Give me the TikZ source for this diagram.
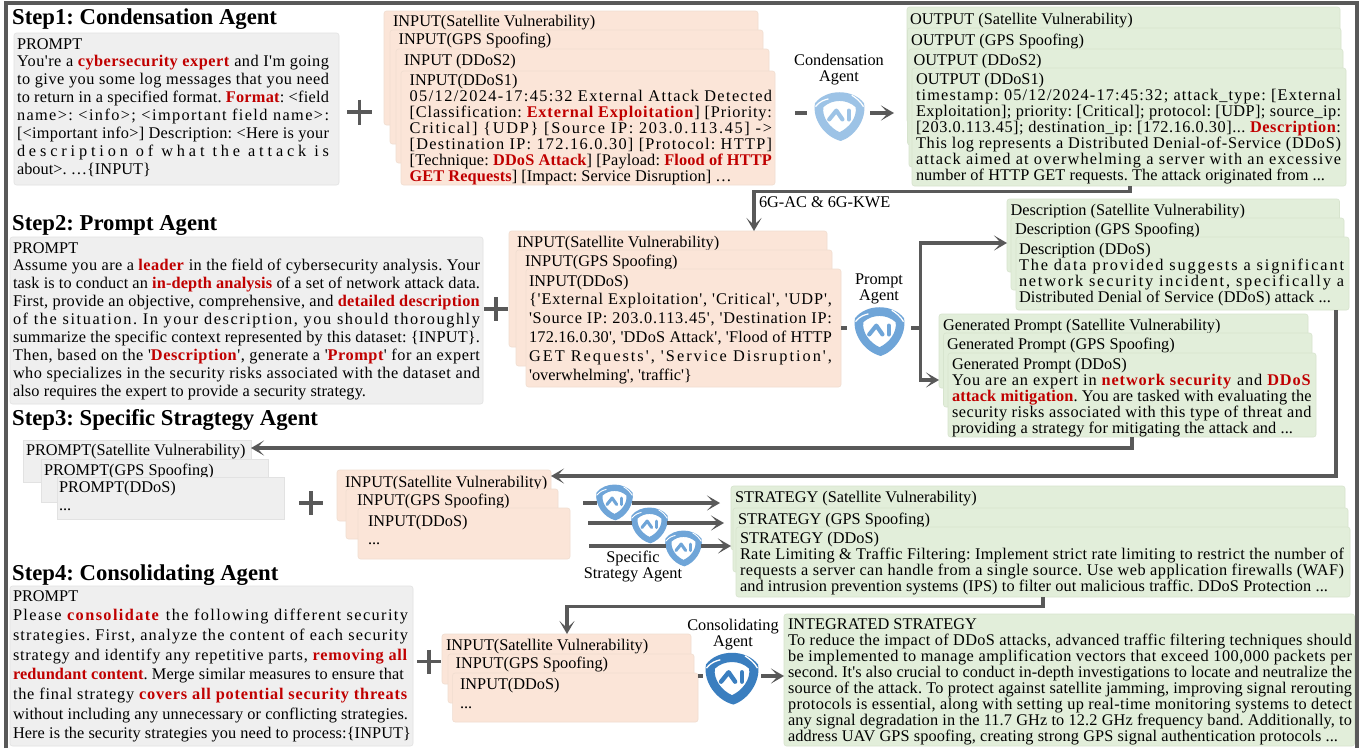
\documentclass[tikz,border=0pt]{standalone}
\usepackage{fontspec}
\usepackage{xcolor}
\setmainfont{Liberation Serif}[Ligatures=TeXOff]
\usetikzlibrary{arrows.meta}
\AtBeginDocument{\frenchspacing}
\definecolor{redc}{HTML}{C00000}
\definecolor{linec}{HTML}{595959}
\definecolor{grayf}{HTML}{EFEFEF}
\definecolor{grayd}{HTML}{E2E2E2}
\definecolor{orf}{HTML}{FBE5D8}
\definecolor{ord}{HTML}{F0DDD0}
\definecolor{grf}{HTML}{E2EEDA}
\definecolor{grd}{HTML}{D7E4CE}
\definecolor{aiA}{HTML}{9DC3E6}
\definecolor{aiB}{HTML}{6FA5D8}
\definecolor{aiC}{HTML}{3A7EBF}
\newcommand\R[1]{\textcolor{redc}{\textbf{#1}}}
\newlength\JWa\newlength\JWb\newlength\JT\newlength\lw\newlength\pad
\newcommand\J[2][\lw]{\setlength\JT{#1}%
 \settowidth\JWa{#2}%
 \settowidth\JWb{\addfontfeature{LetterSpace=1}#2}%
 \pgfmathsetmacro\ls{(\the\JT-\the\JWa)/(\the\JWb-\the\JWa)}%
 \hbox{\kern\pad\smash{\addfontfeature{LetterSpace=\ls}#2}}}
\newcommand\Nn[1]{\hbox{\kern\pad\smash{#1}}}
\def\setgeo#1#2#3#4{\def\gtx{#1}\def\gtr{#2}\def\gby{#3}\def\gL{#4}}
% name, style, x0, y0, x1, y1, {tx}{right}{first baseline}{line step}, lines
\newcommand\TB[8]{\setgeo#7%
 \node[#2,anchor=north west] (#1) at (#3,#4) {%
  \setlength\pad{\dimexpr\gtx pt-#3pt\relax}\setlength\lw{\dimexpr\gtr pt-\gtx pt\relax}%
  \vbox to \dimexpr#6pt-#4pt\relax{\baselineskip=\gL pt\lineskiplimit=-1000pt\lineskip=0pt
   \hbox to \dimexpr#5pt-#3pt\relax{}\kern\dimexpr\gby pt-#4pt-\gL pt\relax
   #8\vss}};}
% logo: centre x, centre y, half size, colour (inner y axis points down the page)
\newcommand\AIlogo[4]{\begin{scope}[shift={(#1,#2)},x=#3pt,y=#3pt,yscale=-1]
 \fill[#4,even odd rule] (-1,-.52) .. controls (-.55,-1.12) and (.55,-1.12) .. (1,-.52)
   .. controls (1.12,.15) and (.6,.85) .. (.05,1.02) .. controls (-.6,.85) and (-1.12,.15) .. (-1,-.52) -- cycle
   (-.66,-.36) .. controls (-.3,-.7) and (.3,-.7) .. (.66,-.36)
   .. controls (.72,.05) and (.4,.48) .. (0,.66) .. controls (-.4,.48) and (-.72,.05) .. (-.66,-.36) -- cycle;
 \draw[white,line width=.05*#3pt] (-.98,-.38) .. controls (-.8,-.62) and (-.6,-.66) .. (-.45,-.7);
 \draw[white,line width=.05*#3pt] (.98,-.38) .. controls (.85,-.6) and (.7,-.72) .. (.5,-.85);
 \draw[#4,line width=.17*#3pt,line join=round,line cap=round] (-.42,.14) -- (-.13,-.22) -- (.12,.14);
 \draw[#4,line width=.17*#3pt,line cap=round] (.38,-.22) -- (.38,.14);
\end{scope}}
\tikzset{
 txt/.style={font=\fontsize{16.3}{16}\selectfont,inner sep=0pt,outer sep=0pt},
 bx/.style={txt,rounded corners=2.5pt,line width=.6pt},
 graybox/.style={bx,fill=grayf,draw=grayd},
 sqbox/.style={bx,sharp corners,fill=grayf,draw=grayd},
 orbox/.style={bx,fill=orf,draw=ord},
 grbox/.style={bx,fill=grf,draw=grd},
 stepT/.style={font=\fontsize{22.7}{24}\selectfont\bfseries,inner sep=0pt,anchor=base west},
 lbl/.style={txt,align=center,anchor=north,font=\fontsize{16.3}{15.7}\selectfont},
 agent/.style={minimum height=2pt,inner sep=0pt,outer sep=0pt},
 conn/.style={draw=linec,line width=3.4pt},
 arr/.style={conn,-{Stealth[length=13pt,width=15pt,inset=7pt,fill=linec]}},
 plus/.style={draw=linec,line width=3.6pt},
 frameline/.style={draw=linec,line width=4.6pt},
}
\begin{document}
\begin{tikzpicture}[x=1pt,y=-1pt]
\useasboundingbox (0,0) rectangle (1362,748);
\fill[white] (0,0) rectangle (1362,748);
\draw[frameline] (5.8,748) -- (5.8,3) -- (1357,3) -- (1357,748);
% Titles
\node[stepT] (t1) at (12,24) {Step1: Condensation Agent};
\node[stepT] (t2) at (12,230) {Step2: Prompt Agent};
\node[stepT] (t3) at (12,425) {Step3: Specific Stragtegy Agent};
\node[stepT] (t4) at (12,580) {Step4: Consolidating Agent};
% Step 1
\TB{p1}{graybox}{14}{33}{339}{185}{{17}{329}{49}{17.9}}{%
 \Nn{PROMPT}
 \J{You're a \R{cybersecurity expert} and I'm going}
 \J{to give you some log messages that you need}
 \J{to return in a specified format. \R{Format}: <field}
 \J{name>: <info>; <important field name>:}
 \J{[<important info>] Description: <Here is your}
 \J{description of what the attack is}
 \J[134pt]{about>. …\{INPUT\}}}
\TB{i1a}{orbox}{384}{11}{758}{125}{{393}{700}{26}{16}}{\Nn{INPUT(Satellite Vulnerability)}}
\TB{i1b}{orbox}{390}{30}{763}{144}{{398.6}{700}{44}{16}}{\Nn{INPUT(GPS Spoofing)}}
\TB{i1c}{orbox}{396}{49}{769}{163}{{404}{700}{65}{16}}{\Nn{INPUT (DDoS2)}}
\TB{i1d}{orbox}{401}{71}{775}{185}{{409.7}{772}{85}{16}}{%
 \Nn{INPUT(DDoS1)}
 \J{05/12/2024-17:45:32 External Attack Detected}
 \J{[Classification: \R{External Exploitation}] [Priority:}
 \J{Critical] \{UDP\} [Source IP: 203.0.113.45] ->}
 \J{[Destination IP: 172.16.0.30] [Protocol: HTTP]}
 \J{[Technique: \R{DDoS Attack}] [Payload: \R{Flood of HTTP}}
 \J[322pt]{\R{GET Requests}] [Impact: Service Disruption] …}}
\TB{o1a}{grbox}{907}{7}{1340}{123}{{910}{1300}{24}{16}}{\Nn{OUTPUT (Satellite Vulnerability)}}
\TB{o1b}{grbox}{907.5}{28}{1341}{145}{{911}{1300}{45}{16}}{\Nn{OUTPUT (GPS Spoofing)}}
\TB{o1c}{grbox}{909}{49}{1343}{167}{{913.5}{1300}{65}{16}}{\Nn{OUTPUT (DDoS2)}}
\TB{o1d}{grbox}{912}{68}{1346}{186}{{916}{1341}{84}{16}}{%
 \Nn{OUTPUT (DDoS1)}
 \J{timestamp: 05/12/2024-17:45:32; attack\_type: [External}
 \J{Exploitation]; priority: [Critical]; protocol: [UDP]; source\_ip:}
 \J{[203.0.113.45]; destination\_ip: [172.16.0.30]... \R{Description}:}
 \J{This log represents a Distributed Denial-of-Service (DDoS)}
 \J{attack aimed at overwhelming a server with an excessive}
 \J[409pt]{number of HTTP GET requests. The attack originated from ...}}
% Step 2
\TB{p2}{graybox}{10}{237}{483}{404}{{13}{480}{253}{17.9}}{%
 \Nn{PROMPT}
 \J{Assume you are a \R{leader} in the field of cybersecurity analysis. Your}
 \J{task is to conduct an \R{in-depth analysis} of a set of network attack data.}
 \J{First, provide an objective, comprehensive, and \R{detailed description}}
 \J{of the situation. In your description, you should thoroughly}
 \J{summarize the specific context represented by this dataset: \{INPUT\}.}
 \J{Then, based on the '\R{Description}', generate a '\R{Prompt}' for an expert}
 \J{who specializes in the security risks associated with the dataset and}
 \J[353pt]{also requires the expert to provide a security strategy.}}
\TB{i2a}{orbox}{509}{231}{827}{347}{{517}{800}{247.5}{16}}{\Nn{INPUT(Satellite Vulnerability)}}
\TB{i2b}{orbox}{516}{250}{832}{366}{{525}{800}{266}{16}}{\Nn{INPUT(GPS Spoofing)}}
\TB{i2c}{orbox}{526}{269}{841}{387}{{529}{832}{286}{18.8}}{%
 \Nn{INPUT(DDoS)}
 \J{\{'External Exploitation', 'Critical', 'UDP',}
 \J{'Source IP: 203.0.113.45', 'Destination IP:}
 \J{172.16.0.30', 'DDoS Attack', 'Flood of HTTP}
 \J{GET Requests', 'Service Disruption',}
 \J[163pt]{'overwhelming', 'traffic'\}}}
\TB{d1}{grbox}{1007}{199}{1339.5}{272}{{1010.5}{1300}{215}{16}}{\Nn{Description (Satellite Vulnerability)}}
\TB{d2}{grbox}{1011}{218}{1344}{290}{{1015}{1300}{234}{16}}{\Nn{Description (GPS Spoofing)}}
\TB{d3}{grbox}{1016}{237}{1349}{310}{{1019}{1344}{254}{16}}{%
 \Nn{Description (DDoS)}
 \J{The data provided suggests a significant}
 \J{network security incident, specifically a}
 \J[312pt]{Distributed Denial of Service (DDoS) attack ...}}
\TB{g1}{grbox}{939}{314}{1308}{388}{{943}{1300}{330}{16}}{\Nn{Generated Prompt (Satellite Vulnerability)}}
\TB{g2}{grbox}{943.5}{333}{1312}{407}{{947}{1300}{349}{16}}{\Nn{Generated Prompt (GPS Spoofing)}}
\TB{g3}{grbox}{948}{353}{1316}{437}{{952}{1311.6}{369}{16}}{%
 \Nn{Generated Prompt (DDoS)}
 \J{You are an expert in \R{network security} and \R{DDoS}}
 \J{\R{attack mitigation}. You are tasked with evaluating the}
 \J{security risks associated with this type of threat and}
 \J[341pt]{providing a strategy for mitigating the attack and ...}}
% Step 3
\TB{q1}{sqbox}{23}{440}{251}{482}{{26}{200}{455}{16}}{\Nn{PROMPT(Satellite Vulnerability)}}
\TB{q2}{sqbox}{41}{459}{268}{502}{{44}{200}{475}{16}}{\Nn{PROMPT(GPS Spoofing)}}
\TB{q3}{sqbox}{57}{477}{284}{519}{{59}{200}{492}{18}}{\Nn{PROMPT(DDoS)}\Nn{...}}
\TB{i3a}{orbox}{337}{470}{551}{521}{{345}{500}{487}{16}}{\Nn{INPUT(Satellite Vulnerability)}}
\TB{i3b}{orbox}{346}{489}{558}{539}{{357}{500}{505}{16}}{\Nn{INPUT(GPS Spoofing)}}
\TB{i3c}{orbox}{358}{508}{570}{559}{{368}{500}{526}{18}}{\Nn{INPUT(DDoS)}\Nn{...}}
\TB{s1}{grbox}{731}{486}{1345}{550}{{735}{1300}{502}{16}}{\Nn{STRATEGY (Satellite Vulnerability)}}
\TB{s2}{grbox}{733}{508}{1348}{572}{{738}{1300}{524}{16}}{\Nn{STRATEGY (GPS Spoofing)}}
\TB{s3}{grbox}{736}{527}{1350}{597}{{740}{1344}{543}{16}}{%
 \Nn{STRATEGY (DDoS)}
 \J{Rate Limiting \& Traffic Filtering: Implement strict rate limiting to restrict the number of}
 \J{requests a server can handle from a single source. Use web application firewalls (WAF)}
 \J[588pt]{and intrusion prevention systems (IPS) to filter out malicious traffic. DDoS Protection ...}}
% Step 4
\TB{p4}{graybox}{10}{586}{413}{746}{{13}{408}{601}{19.7}}{%
 \Nn{PROMPT}
 \J{Please \R{consolidate} the following different security}
 \J{strategies. First, analyze the content of each security}
 \J{strategy and identify any repetitive parts, \R{removing all}}
 \J[391pt]{\R{redundant content}. Merge similar measures to ensure that}
 \J{the final strategy \R{covers all potential security threats}}
 \J{without including any unnecessary or conflicting strategies.}
 \J[398pt]{Here is the security strategies you need to process:\{INPUT\}}}
\TB{i4a}{orbox}{442}{634}{691}{684}{{446}{650}{650}{16}}{\Nn{INPUT(Satellite Vulnerability)}}
\TB{i4b}{orbox}{448}{654}{694}{703}{{455.6}{650}{668}{16}}{\Nn{INPUT(GPS Spoofing)}}
\TB{i4c}{orbox}{452.6}{673}{698}{722}{{460}{650}{689}{19}}{\Nn{INPUT(DDoS)}\Nn{...}}
\TB{st}{grbox}{784}{614}{1354.5}{746}{{788}{1352}{629}{16}}{%
 \Nn{INTEGRATED STRATEGY}
 \J{To reduce the impact of DDoS attacks, advanced traffic filtering techniques should}
 \J{be implemented to manage amplification vectors that exceed 100,000 packets per}
 \J{second. It's also crucial to conduct in-depth investigations to locate and neutralize the}
 \J{source of the attack. To protect against satellite jamming, improving signal rerouting}
 \J{protocols is essential, along with setting up real-time monitoring systems to detect}
 \J{any signal degradation in the 11.7 GHz to 12.2 GHz frequency band. Additionally, to}
 \J[550pt]{address UAV GPS spoofing, creating strong GPS signal authentication protocols ...}}
% Plus signs
\draw[plus] (347,112) -- (372,112) (359.5,99.5) -- (359.5,124.5);
\draw[plus] (484,309) -- (508,309) (496,297) -- (496,321);
\draw[plus] (299,503) -- (323,503) (311,491) -- (311,515);
\draw[plus] (417,661.5) -- (441,661.5) (429,649.5) -- (429,673.5);
% Agents: anchors for the connectors on either side of each logo
\node[agent,minimum width=63pt] (ca) at (838.5,113) {};
\node[agent,minimum width=64pt] (pa) at (879,328) {};
\node[agent,minimum width=35pt] (sa1) at (614.5,503) {};
\node[agent,minimum width=35pt] (sa2) at (649.5,523) {};
\node[agent,minimum width=35pt] (sa3) at (683.5,546) {};
\node[agent,minimum width=58pt] (co) at (732,676) {};
\AIlogo{839.5}{116}{24.5}{aiA}
\AIlogo{879.5}{331}{24.5}{aiB}
\AIlogo{614.5}{502}{18}{aiB}
\AIlogo{649.5}{525}{18}{aiB}
\AIlogo{683.5}{548}{18}{aiB}
\AIlogo{732}{678}{26}{aiC}
% Agent labels
\node[lbl] (lc) at (839,54) {Condensation\\Agent};
\node[lbl] (lp) at (879,274) {Prompt\\Agent};
\node[lbl] (ls) at (633,551) {Specific\\Strategy Agent};
\node[lbl] (lo) at (733,619) {Consolidating\\Agent};
\node[txt,anchor=base west] (kw) at (759,207) {6G-AC \& 6G-KWE};
% Connectors
\coordinate (cin) at (795,113);
\coordinate (cout) at (894,113);
\draw[conn] (cin) -- (ca.west);
\draw[arr] (ca.east) -- (cout);
\draw[arr] (1130,0 |- o1d.south) -- (1130,191.5) -- (754,191.5) -- (754,0 |- i2a.north);
\draw[conn] (i2c.east |- pa.west) -- (pa.west);
\draw[arr] (pa.east) -- (920.5,0 |- pa.east) -- (920.5,243) -- (d1.west |- 0,243);
\draw[arr] (pa.east) -- (920.5,0 |- pa.east) -- (920.5,380) -- (g1.west |- 0,380);
\draw[arr] (1132,0 |- g3.south) -- (1132,448) -- (q1.east |- 0,448);
\draw[arr] (1336,0 |- d3.south) -- (1336,476) -- (i3a.east |- 0,476);
\coordinate (a1) at (583,503); \coordinate (b1) at (720,503);
\coordinate (a2) at (588,523); \coordinate (b2) at (724,523);
\coordinate (a3) at (589,546); \coordinate (b3) at (731,546);
\draw[conn] (a1) -- (sa1.west); \draw[arr] (sa1.east) -- (b1);
\draw[conn] (a2) -- (sa2.west); \draw[arr] (sa2.east) -- (b2);
\draw[conn] (a3) -- (sa3.west); \draw[arr] (sa3.east) -- (b3);
\draw[arr] (1043,0 |- s3.south) -- (1043,606.5) -- (567,606.5) -- (567,0 |- i4a.north);
\draw[conn] (i4c.east |- co.west) -- (co.west);
\draw[arr] (co.east) -- (st.west |- co.east);
\end{tikzpicture}
\end{document}
